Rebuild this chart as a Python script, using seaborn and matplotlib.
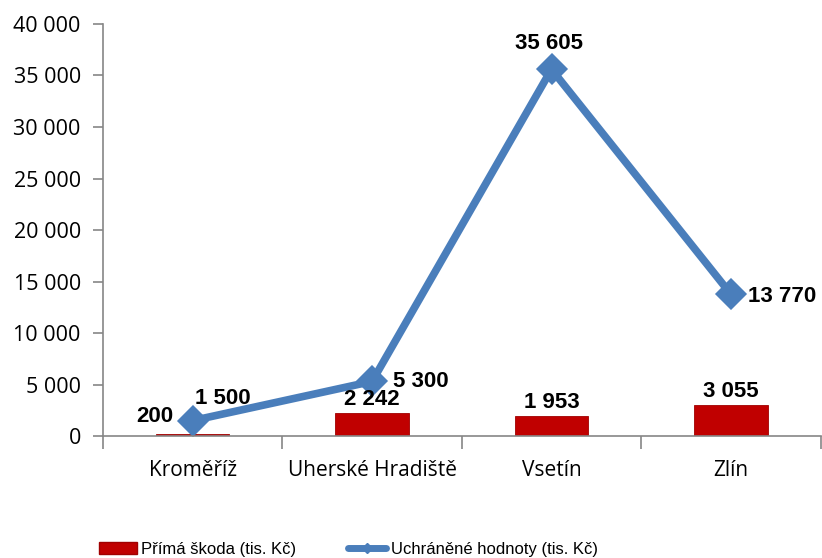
import matplotlib
matplotlib.use('Agg')
import matplotlib.pyplot as plt
import seaborn as sns
from matplotlib.lines import Line2D
from matplotlib.patches import Patch
from matplotlib.ticker import FixedLocator, FuncFormatter

# data
districts = ['Kroměříž', 'Uherské Hradiště', 'Vsetín', 'Zlín']
prima_skoda = [200, 2242, 1953, 3055]
uchranene = [1500, 5300, 35605, 13770]
y_ticks = [0, 5000, 10000, 15000, 20000, 25000, 30000, 35000, 40000]

bar_color = '#C00000'
line_color = '#4A7EBB'
axis_color = '#868686'


def space_format(v, pos=None):
    return '{:,.0f}'.format(v).replace(',', ' ')


sns.set_style('white')
plt.rcParams['font.family'] = ['Open Sans', 'DejaVu Sans']
plt.rcParams['text.color'] = 'black'
plt.rcParams['xtick.labelcolor'] = 'black'
plt.rcParams['ytick.labelcolor'] = 'black'

fig = plt.figure(figsize=(8.22, 5.58), dpi=100)
ax = fig.add_axes([0.1253, 0.2186, 0.873, 0.7384])

sns.barplot(x=districts, y=prima_skoda, color=bar_color, width=0.41,
            edgecolor='#A00000', linewidth=0.6, saturation=1, ax=ax)
sns.pointplot(x=districts, y=uchranene, color=line_color, markers='D',
              markersize=12, linewidth=5.5, ax=ax)

ax.set_xlim(-0.5, 3.5)
ax.set_ylim(0, 40000)
ax.set_yticks(y_ticks)
ax.yaxis.set_major_formatter(FuncFormatter(space_format))

# spines / ticks
for side in ['top', 'right']:
    ax.spines[side].set_visible(False)
for side in ['left', 'bottom']:
    ax.spines[side].set_color(axis_color)
    ax.spines[side].set_linewidth(1.2)
ax.tick_params(axis='y', direction='out', length=7, width=1.2,
               color=axis_color, labelsize=15.5, pad=9, left=True)
ax.tick_params(axis='x', which='major', length=0, labelsize=15, pad=17)
ax.xaxis.set_minor_locator(FixedLocator([-0.5, 0.5, 1.5, 2.5, 3.5]))
ax.tick_params(axis='x', which='minor', direction='out', length=9,
               width=1.2, color=axis_color, bottom=True)
ax.set_xlabel('')
ax.set_ylabel('')

lab = dict(fontsize=16, fontweight='bold', family=['Liberation Sans'],
           color='black', textcoords='offset points')

# bar labels
bar_offsets = [(-27, 5), (0, 2), (0, 2), (0, 2)]
for i, (v, off) in enumerate(zip(prima_skoda, bar_offsets)):
    ax.annotate(space_format(v), (i, v), xytext=off, ha='center',
                va='bottom', **lab)

# line labels
line_pos = [((22, 8), 'center', 'bottom'), ((15, 0), 'left', 'center'),
            ((-2, 11), 'center', 'bottom'), ((12, -2), 'left', 'center')]
for i, (v, (off, ha, va)) in enumerate(zip(uchranene, line_pos)):
    ax.annotate(space_format(v), (i, v), xytext=off, ha=ha, va=va, **lab)

handles = [
    Patch(facecolor=bar_color, edgecolor='#A00000'),
    Line2D([0], [0], color=line_color, linewidth=5, marker='D',
           markersize=5),
]
fig.legend(handles, ['Přímá škoda (tis. Kč)', 'Uchráněné hodnoty (tis. Kč)'],
           loc='lower left', bbox_to_anchor=(0.102, -0.025), ncol=2,
           frameon=False, handlelength=2.3, handletextpad=0.25,
           columnspacing=3.1, prop={'family': 'Liberation Sans', 'size': 12})

fig.savefig('out.png', dpi=100)
